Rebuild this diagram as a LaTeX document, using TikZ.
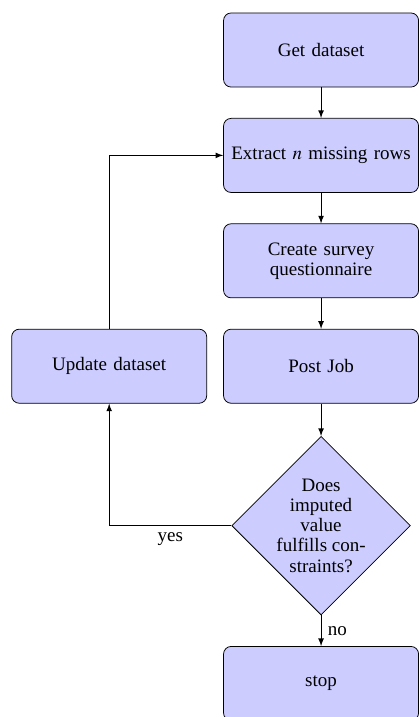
\documentclass[tikz,border=0pt]{standalone}
\usepackage{amsmath}
\usepackage{mathptmx}
\usepackage{fontspec}
\setmainfont{Liberation Serif}
\usepackage{tikz}
\usetikzlibrary{shapes.geometric}

\begin{document}
\begin{tikzpicture}[
        font=\fontsize{10}{10.6}\selectfont,
        block/.style={rectangle, draw, fill=blue!20, text width=9.6em, align=center, rounded corners, minimum height=3.9em},
        decision/.style={diamond, draw, fill=blue!20, align=center, inner sep=-0.5pt},
        line/.style={draw, -latex}
    ]
        % Fix the size of the picture
        \useasboundingbox (-5.94, 0.925) rectangle (1.81, -12.34);

        % Draw the main column of steps
        \node[block] (get) at (0, 0) {Get dataset};
        \node[block] (extract) at (0, -1.95) {Extract $n$ missing rows};
        \node[block] (survey) at (0, -3.9) {Create survey\\questionnaire};
        \node[block] (post) at (0, -5.85) {Post Job};
        \node[decision] (check) at (0, -8.8) {Does\\imputed\\value\\fulfills con-\\straints?};
        \node[block] (stop) at (0, -11.72) {stop};

        % Draw the update step on the left
        \node[block] (update) at (-3.92, -5.85) {Update dataset};

        % Connect the steps
        \path[line] (get) -- (extract);
        \path[line] (extract) -- (survey);
        \path[line] (survey) -- (post);
        \path[line] (post) -- (check);
        \path[line] (check) -- node[right] {no} (stop); % Constraints not met

        % Loop back through the update
        \path[line] (check) -| node[pos=0.25, below] {yes} (update);
        \path[line] (update) |- (extract);
    \end{tikzpicture}
\end{document}
